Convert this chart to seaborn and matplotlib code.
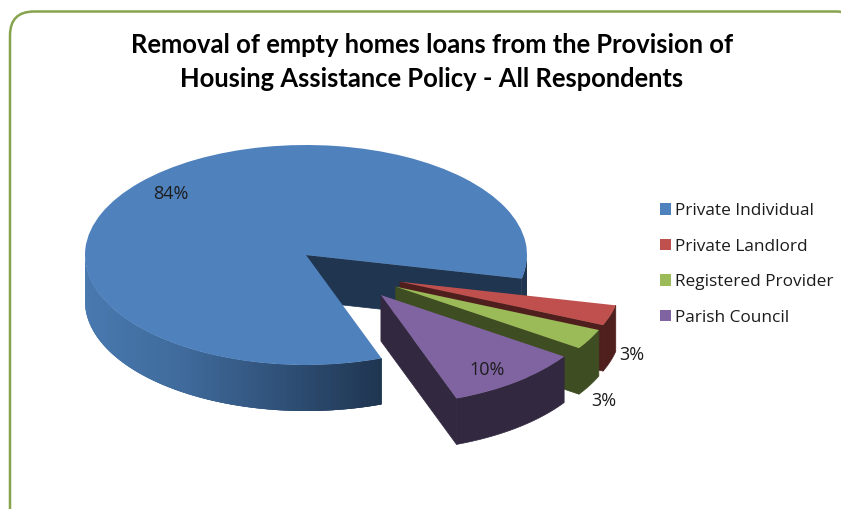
import numpy as np
import matplotlib
matplotlib.use("Agg")
import matplotlib.pyplot as plt
from matplotlib.collections import PolyCollection
from matplotlib.patches import FancyBboxPatch, Polygon
import seaborn as sns

categories = ["Private Individual", "Private Landlord", "Registered Provider", "Parish Council"]
shares = [84, 3, 3, 10]
title_lines = ["Removal of empty homes loans from the Provision of",
               "Housing Assistance Policy - All Respondents"]

top_colors = ["#4F81BD", "#C0504D", "#9BBB59", "#8064A2"]
side_colors = ["#1F3550", "#4F1F1E", "#3F4D22", "#322840"]

W, H = 841, 509
CX, CY, RX, RY = 306, 255, 221, 110      # pie centre and radii, in pixels
DEPTH = 46 / RY                          # extrusion, in y units of the pie axes
START_ANGLE = -70

# how far each slice is pulled out of the pie, in pie radii
slice_shift = [(0, 0), (0.425, -0.243), (0.406, -0.288), (0.339, -0.364)]
# label anchors, in pixels
label_anchor = [(171, 194), (632, 355), (604, 401), (487, 370)]

sns.set_theme(style="white")
plt.rcParams["font.family"] = ["Open Sans", "DejaVu Sans"]

fig = plt.figure(figsize=(W / 100, H / 100), dpi=100, facecolor="white")
ax = fig.add_axes([0, 0, 1, 1])

wedges, _, pct_texts = ax.pie(
    shares, colors=sns.color_palette(top_colors), startangle=START_ANGLE,
    counterclock=False, autopct="%d%%",
    wedgeprops={"linewidth": 0},
    textprops={"fontsize": 13, "color": "#1c1c1c"},
)
ax.set_aspect("auto")
ax.set_xlim(-CX / RX, (W - CX) / RX)
ax.set_ylim(-(H - CY) / RY, CY / RY)
ax.set_axis_off()


def rim(theta_deg, centre):
    t = np.radians(theta_deg)
    return centre[0] + np.cos(t), centre[1] + np.sin(t)


def wall_outline(arc, centre):
    xs, ys = rim(arc, centre)
    return np.column_stack([np.r_[xs, xs[::-1]], np.r_[ys, ys[::-1] - DEPTH]])


# the long front wall of the big slice darkens from left to right
wall_ramp = sns.blend_palette(["#4879AF", "#3F6A9B", "#2F5077", "#1F3550"], 256)
RAMP_END = 0.34


def ramp_colour(x):
    frac = np.clip((x + 1) / (1 + RAMP_END), 0, 1)
    return wall_ramp[int(frac * 255)]


for i, (wedge, shift) in enumerate(zip(wedges, slice_shift)):
    base = 10 * (i + 1)
    wedge.set_center(shift)
    wedge.set_zorder(base + 2)

    # cut face along the clockwise edge of the slice
    px, py = rim(wedge.theta1, shift)
    ax.add_patch(Polygon([shift, (px, py), (px, py - DEPTH), (shift[0], shift[1] - DEPTH)],
                         closed=True, facecolor=side_colors[i], edgecolor=side_colors[i],
                         linewidth=0.5, zorder=base))

    angles = np.linspace(wedge.theta1, wedge.theta2, 500)
    if i > 0:
        # exploded slices all lie in front, so one flat wall is enough
        ax.add_patch(Polygon(wall_outline(angles, shift), closed=True,
                             facecolor=side_colors[i], edgecolor=side_colors[i],
                             linewidth=0.5, zorder=base + 1))
        continue

    # big slice: only the part facing the viewer, in shaded strips that each
    # run under the next one so that no seams show
    step = angles[1] - angles[0]
    quads, colours = [], []
    for a0 in angles[:-1]:
        if np.sin(np.radians(a0)) >= 0:
            continue
        arc = np.linspace(a0, min(a0 + 3 * step, wedge.theta2), 4)
        arc = arc[np.sin(np.radians(arc)) <= 0]
        quads.append(wall_outline(arc, shift))
        colours.append(ramp_colour(rim(a0, shift)[0]))
    ax.add_collection(PolyCollection(quads, facecolors=colours, edgecolors="none",
                                     linewidths=0, zorder=base + 1), autolim=False)

for text, (lx, ly) in zip(pct_texts, label_anchor):
    text.set_position(((lx - CX) / RX, (CY - ly) / RY))
    text.set_zorder(60)
    text.set_ha("center")
    text.set_va("center")

legend = ax.legend(
    wedges, categories, loc="upper left",
    bbox_to_anchor=(654.8 / W, 1 - 198 / H), bbox_transform=fig.transFigure,
    frameon=False, fontsize=12.4, labelcolor="#1c1c1c",
    handlelength=0.66, handleheight=0.66, handletextpad=0.24,
    labelspacing=1.13, borderpad=0.3, borderaxespad=0,
)
legend.set_zorder(60)

# overlay in pixel coordinates for the frame and title
overlay = fig.add_axes([0, 0, 1, 1], facecolor="none")
overlay.set_xlim(0, W)
overlay.set_ylim(H, 0)
overlay.set_axis_off()
overlay.add_patch(FancyBboxPatch((10, 11.5), 850, 560, boxstyle="round,pad=0,rounding_size=24",
                                 facecolor="none", edgecolor="#86A44E", linewidth=1.8))
for line, y in zip(title_lines, [45, 79]):
    overlay.text(432, y, line, ha="center", va="center", fontsize=18.4,
                 fontweight="bold", family=["Lato", "DejaVu Sans"], color="black")

fig.savefig("out.png", dpi=100)
